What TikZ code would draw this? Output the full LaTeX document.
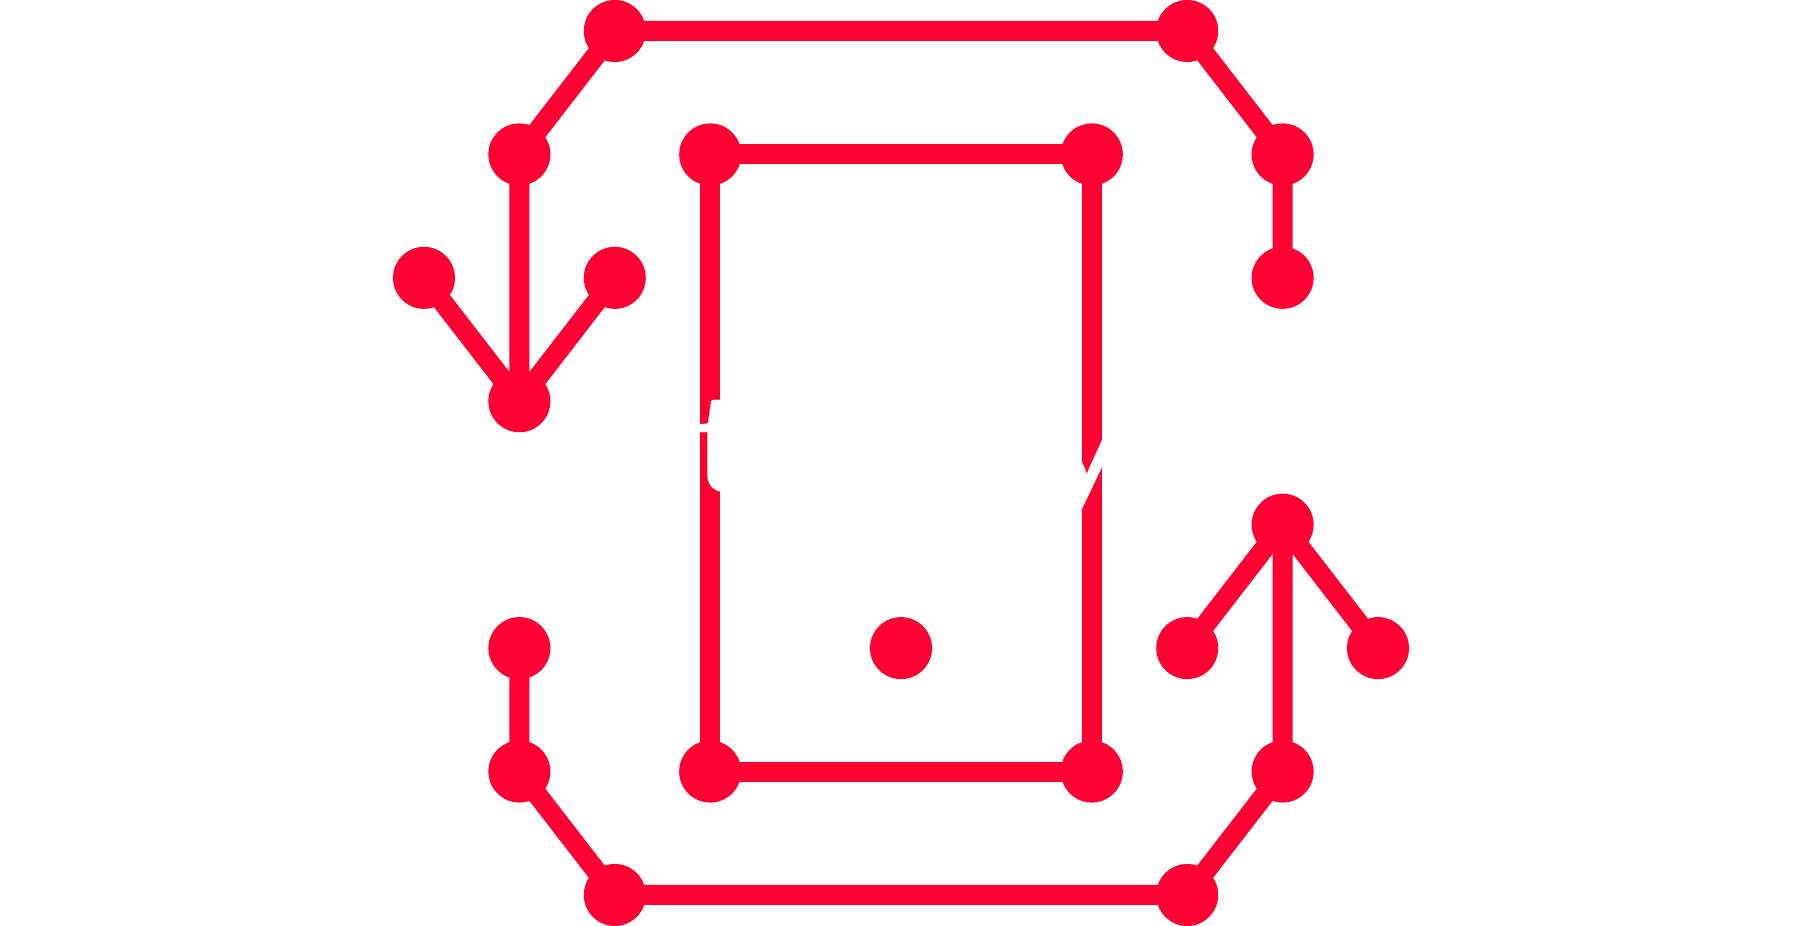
\documentclass[tikz,border=0pt]{standalone}
\usepackage{fontspec}
\usepackage{tikz}
\newfontfamily\logofont{Lato}[FakeStretch=1.11]
\definecolor{appred}{RGB}{255,0,51}

\begin{document}
\begin{tikzpicture}[x=47.7pt, y=-61.71pt,
    dot/.style={shape=circle, fill=appred, inner sep=0pt, minimum size=31pt},
    wire/.style={draw=appred, line width=10pt},
    logo/.style={text=white, inner sep=0pt, anchor=base, font=\logofont\fontsize{68pt}{68pt}\selectfont},]
    \useasboundingbox (-4.444,-0.251) rectangle (14.444,7.251);
    % left tree and top path
    \node [dot] (lleaf) at (0,2) {};
    \node [dot] (rleaf) at (2,2) {};
    \node [dot] (lroot) at (1,3) {};
    \node [dot] (lknee) at (1,1) {};
    \node [dot] (tl) at (2,0) {};
    \node [dot] (tr) at (8,0) {};
    \node [dot] (rknee) at (9,1) {};
    \node [dot] (rend) at (9,2) {};
    % phone
    \node [dot] (p1) at (3,1) {};
    \node [dot] (p2) at (7,1) {};
    \node [dot] (p3) at (7,6) {};
    \node [dot] (p4) at (3,6) {};
    \node [dot] (home) at (5,5) {};
    % bottom path and right tree
    \node [dot] (bstart) at (1,5) {};
    \node [dot] (bknee) at (1,6) {};
    \node [dot] (bl) at (2,7) {};
    \node [dot] (br) at (8,7) {};
    \node [dot] (brknee) at (9,6) {};
    \node [dot] (rtop) at (9,4) {};
    \node [dot] (rleafa) at (8,5) {};
    \node [dot] (rleafb) at (10,5) {};

    \draw [wire] (lleaf.center) -- (lroot.center) -- (rleaf.center);
    \draw [wire] (lroot.center) -- (lknee.center) -- (tl.center) -- (tr.center)
        -- (rknee.center) -- (rend.center);
    \draw [wire] (p1.center) -- (p2.center) -- (p3.center) -- (p4.center) -- cycle;
    \draw [wire] (bstart.center) -- (bknee.center) -- (bl.center) -- (br.center)
        -- (brknee.center) -- (rtop.center);
    \draw [wire] (rleafa.center) -- (rtop.center) -- (rleafb.center);

    \node [logo] (name) at (5.085,3.735) {trendy};
  \end{tikzpicture}
\end{document}
